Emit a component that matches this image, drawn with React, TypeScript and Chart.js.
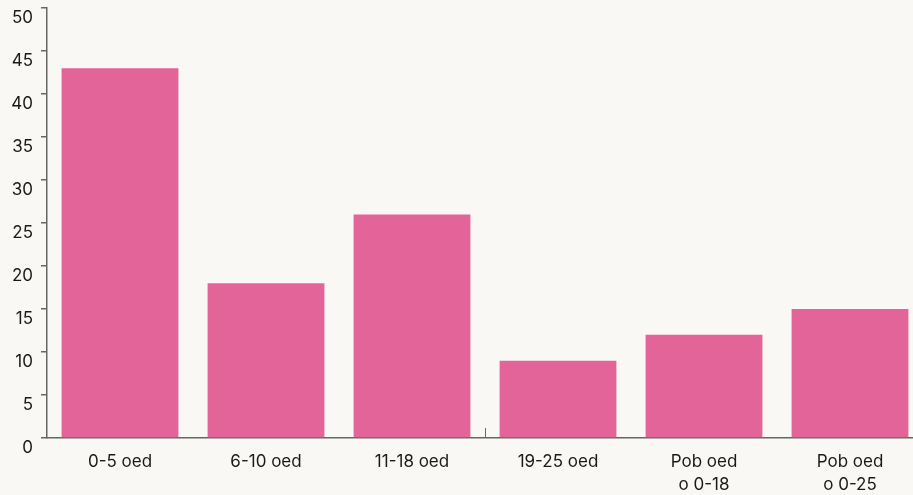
import React, { useEffect, useRef } from "react";
import { Chart, registerables } from "chart.js";

Chart.register(...registerables);

const categories: (string | string[])[] = [
  "0-5 oed",
  "6-10 oed",
  "11-18 oed",
  "19-25 oed",
  ["Pob oed", "o 0-18"],
  ["Pob oed", "o 0-25"],
];
const values: number[] = [43, 18, 26, 9, 12, 15];
const yTicks: number[] = [0, 5, 10, 15, 20, 25, 30, 35, 40, 45, 50];

const BG = "#f9f8f4";
const BAR = "#e36498";
const AXIS = "#666666";
const TEXT = "#1a1a1a";
const FONT = "Inter, 'Noto Sans', sans-serif";

const midTickPlugin = {
  id: "midTick",
  afterDatasetsDraw(chart: any) {
    const x = chart.scales.x;
    const { ctx, chartArea } = chart;
    const px = (x.getPixelForValue(2) + x.getPixelForValue(3)) / 2;
    ctx.save();
    ctx.strokeStyle = AXIS;
    ctx.lineWidth = 1;
    ctx.beginPath();
    ctx.moveTo(Math.round(px) + 0.5, chartArea.bottom - 10);
    ctx.lineTo(Math.round(px) + 0.5, chartArea.bottom);
    ctx.stroke();
    ctx.restore();
  },
};

export default function App() {
  const ref = useRef<HTMLCanvasElement>(null);
  useEffect(() => {
    document.body.style.margin = "0";
    document.body.style.background = BG;
    const chart = new Chart(ref.current!, {
      type: "bar",
      data: {
        labels: categories,
        datasets: [
          {
            data: values,
            backgroundColor: BAR,
            borderWidth: 0,
            categoryPercentage: 0.8,
            barPercentage: 1,
          },
        ],
      },
      options: {
        animation: false,
        responsive: true,
        maintainAspectRatio: false,
        layout: { padding: { left: 0, right: 7, top: 0, bottom: 0 } },
        plugins: { legend: { display: false }, tooltip: { enabled: false } },
        scales: {
          x: {
            grid: { display: false, drawTicks: false },
            border: { display: true, color: AXIS, width: 1.5 },
            ticks: {
              color: TEXT,
              font: { family: FONT, size: 17, lineHeight: "23px" },
              padding: 12,
              maxRotation: 0,
              autoSkip: false,
            },
          },
          y: {
            min: 0,
            max: 50,
            afterBuildTicks: (s: any) => {
              s.ticks = yTicks.map((v) => ({ value: v }));
            },
            afterFit: (s: any) => {
              s.width = 47;
            },
            grid: { drawOnChartArea: false, tickLength: 6, color: AXIS, lineWidth: 1.5 },
            border: { display: true, color: AXIS, width: 1.5 },
            ticks: {
              color: TEXT,
              font: { family: FONT, size: 17 },
              padding: 8,
              labelOffset: 10,
            },
          },
        },
      },
      plugins: [midTickPlugin],
    });
    return () => chart.destroy();
  }, []);
  return (
    <div style={{ position: "fixed", left: 0, top: 0, width: 913, height: 495, overflow: "hidden", background: BG }}>
      <div style={{ width: 930, height: 518, marginTop: -10 }}>
        <canvas ref={ref} />
      </div>
    </div>
  );
}
